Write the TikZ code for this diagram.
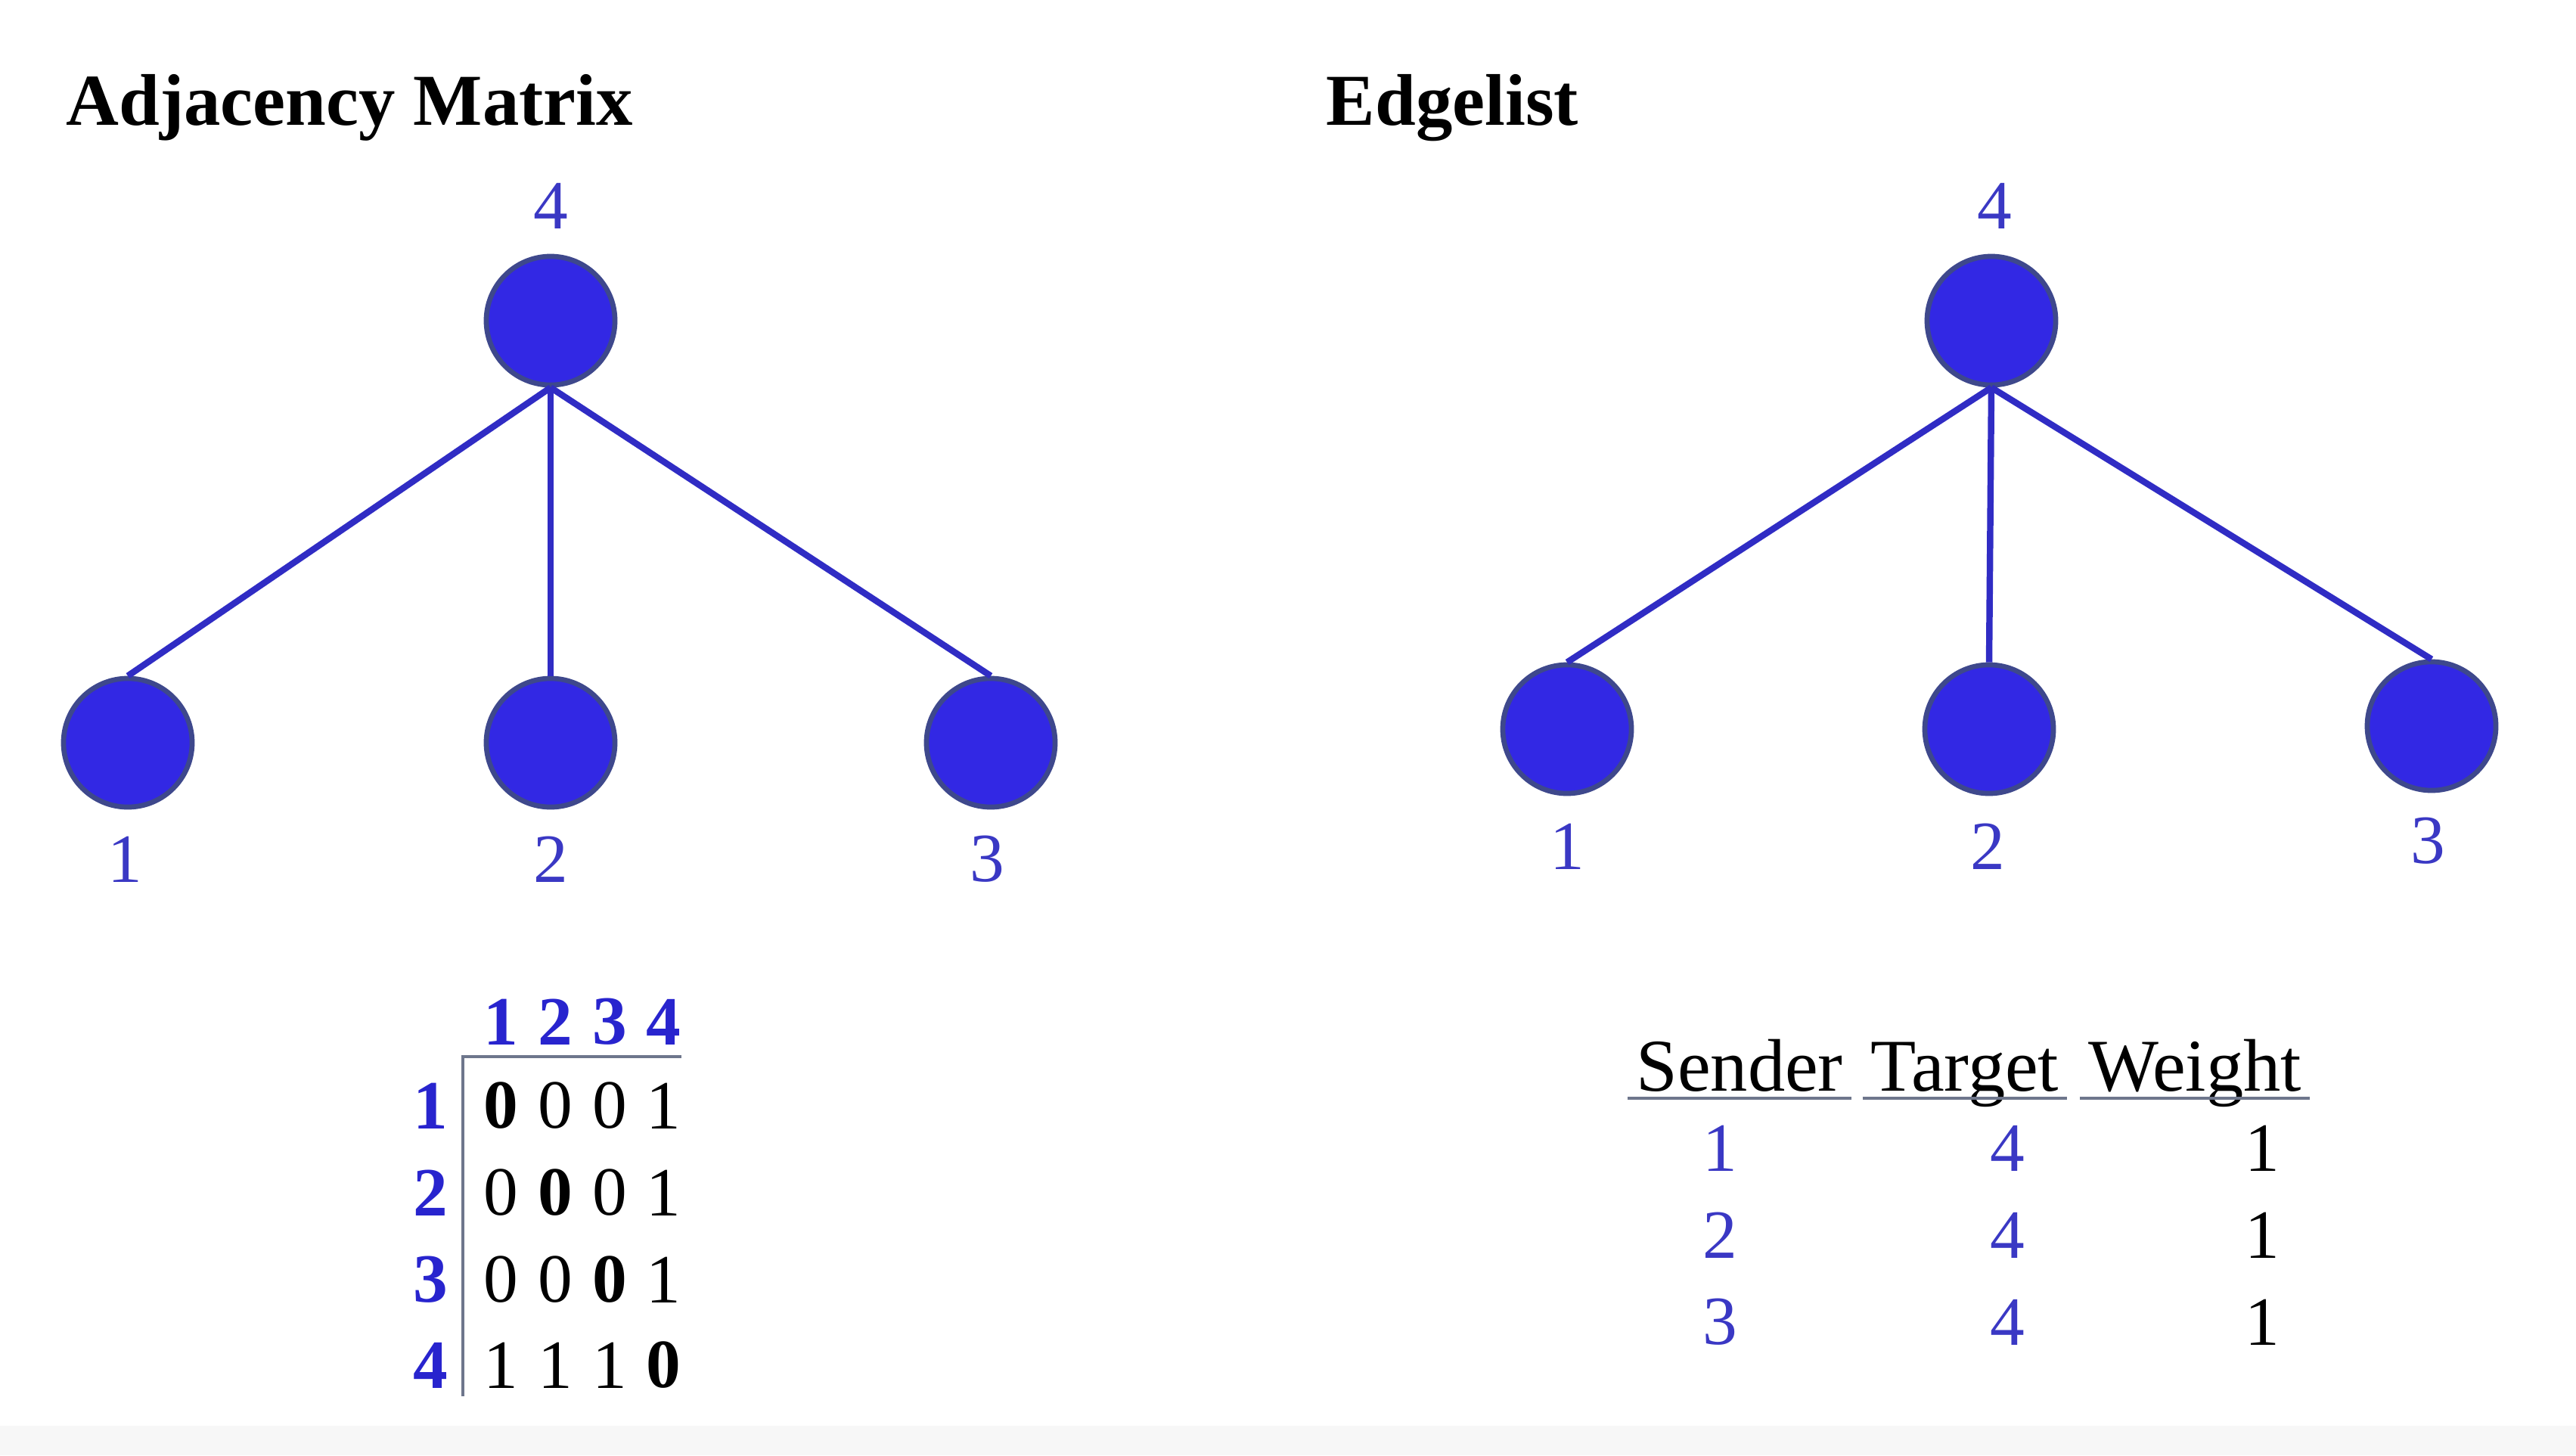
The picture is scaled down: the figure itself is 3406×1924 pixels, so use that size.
\documentclass[tikz,border=0pt]{standalone}
\usepackage{fontspec}
\setmainfont{Liberation Serif}
\usetikzlibrary{positioning}

\definecolor{vfill}{RGB}{50,40,228}
\definecolor{vborder}{RGB}{62,72,140}
\definecolor{eblue}{RGB}{48,44,196}
\definecolor{lblue}{RGB}{58,56,196}
\definecolor{hblue}{RGB}{40,36,206}
\definecolor{rulegray}{RGB}{110,118,140}

\begin{document}
\begin{tikzpicture}[x=0.01cm, y=-0.01cm,
    vertex/.style={circle, draw=vborder, line width=1.9pt, fill=vfill, minimum size=1.7cm, inner sep=0pt},
    vlabel/.style={text=lblue, inner sep=0pt, font=\fontsize{26}{28}\selectfont},
    edge/.style={draw=eblue, line width=2.4pt},
    heading/.style={anchor=base west, inner sep=0pt, font=\fontsize{27.5}{30}\selectfont\bfseries},
    idx/.style={text=hblue, inner sep=0pt, font=\fontsize{26}{28}\selectfont\bfseries},
    entry/.style={inner sep=0pt, font=\fontsize{26}{28}\selectfont},
    diag/.style={entry, font=\fontsize{26}{28}\selectfont\bfseries},
    colhead/.style={anchor=base, inner xsep=3pt, inner ysep=0pt, font=\fontsize{28}{30}\selectfont},
    cellblue/.style={entry, text=lblue},
    uline/.style={draw=rulegray, line width=1.3pt}
]
    \useasboundingbox (0,0) rectangle (3406,1924);
    \fill[black!3] (0,1885) rectangle (3406,1924);

    % Titles
    \node [heading] (tadj) at (87,165) {Adjacency Matrix};
    \node [heading] (tedge) at (1753,165) {Edgelist};

    % Left graph
    \node [vertex] (a4) at (728,424) {};
    \node [vertex] (a1) at (169,982) {};
    \node [vertex] (a2) at (728,982) {};
    \node [vertex] (a3) at (1310,982) {};
    \node [vlabel] (la4) at (728,272) {4};
    \node [vlabel] (la1) at (165,1136) {1};
    \node [vlabel] (la2) at (728,1136) {2};
    \node [vlabel] (la3) at (1305,1136) {3};

    \path [edge] (a4.south) -- (a1.north);
    \path [edge] (a4.south) -- (a2.north);
    \path [edge] (a4.south) -- (a3.north);

    % Right graph
    \node [vertex] (b4) at (2633,424) {};
    \node [vertex] (b1) at (2072,964) {};
    \node [vertex] (b2) at (2630,964) {};
    \node [vertex] (b3) at (3215,960) {};
    \node [vlabel] (lb4) at (2637,272) {4};
    \node [vlabel] (lb1) at (2072,1119) {1};
    \node [vlabel] (lb2) at (2628,1119) {2};
    \node [vlabel] (lb3) at (3210,1112) {3};

    \path [edge] (b4.south) -- (b1.north);
    \path [edge] (b4.south) -- (b2.north);
    \path [edge] (b4.south) -- (b3.north);

    % Adjacency matrix
    \node [idx] (c1) at (662,1351) {1};
    \node [idx] (c2) at (734,1351) {2};
    \node [idx] (c3) at (806,1351) {3};
    \node [idx] (c4) at (877,1351) {4};
    \node [idx] (r1) at (569,1462) {1};
    \node [idx] (r2) at (569,1577) {2};
    \node [idx] (r3) at (569,1692) {3};
    \node [idx] (r4) at (569,1805) {4};

    \node [diag]  (m11) at (662,1462) {0};
    \node [entry] (m12) at (734,1462) {0};
    \node [entry] (m13) at (806,1462) {0};
    \node [entry] (m14) at (877,1462) {1};
    \node [entry] (m21) at (662,1577) {0};
    \node [diag]  (m22) at (734,1577) {0};
    \node [entry] (m23) at (806,1577) {0};
    \node [entry] (m24) at (877,1577) {1};
    \node [entry] (m31) at (662,1692) {0};
    \node [entry] (m32) at (734,1692) {0};
    \node [diag]  (m33) at (806,1692) {0};
    \node [entry] (m34) at (877,1692) {1};
    \node [entry] (m41) at (662,1805) {1};
    \node [entry] (m42) at (734,1805) {1};
    \node [entry] (m43) at (806,1805) {1};
    \node [diag]  (m44) at (877,1805) {0};

    \coordinate (corner) at (612,1397);
    \coordinate (hend) at (901,1397);
    \coordinate (vend) at (612,1846);
    \path [uline] (vend) -- (corner) -- (hend);

    % Edgelist table
    \node [colhead] (snd) at (2300,1442) {Sender};
    \node [colhead] (tgt) at (2598,1442) {Target};
    \node [colhead] (wgt) at (2902,1442) {Weight};
    \path [uline] ([yshift=-0.1cm]snd.base west) -- ([yshift=-0.1cm]snd.base east);
    \path [uline] ([yshift=-0.1cm]tgt.base west) -- ([yshift=-0.1cm]tgt.base east);
    \path [uline] ([yshift=-0.1cm]wgt.base west) -- ([yshift=-0.1cm]wgt.base east);

    \node [cellblue] (s1) at (2274,1518) {1};
    \node [cellblue] (s2) at (2274,1633) {2};
    \node [cellblue] (s3) at (2274,1748) {3};
    \node [cellblue] (t1) at (2654,1518) {4};
    \node [cellblue] (t2) at (2654,1633) {4};
    \node [cellblue] (t3) at (2654,1748) {4};
    \node [entry] (w1) at (2991,1518) {1};
    \node [entry] (w2) at (2991,1633) {1};
    \node [entry] (w3) at (2991,1748) {1};
\end{tikzpicture}
\end{document}
